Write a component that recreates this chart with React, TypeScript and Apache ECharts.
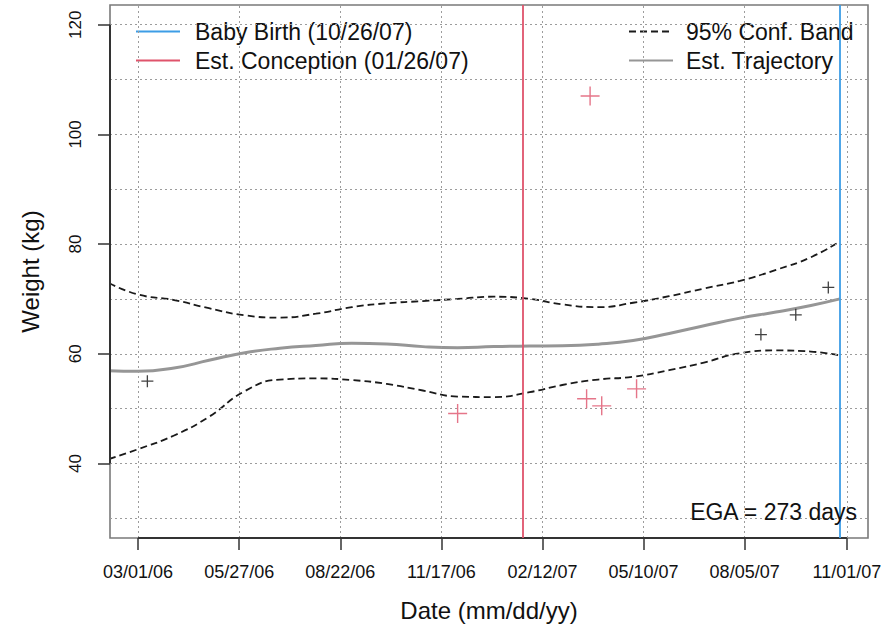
import React, { useEffect, useRef } from 'react';
import * as echarts from 'echarts';

// ---- data ----
const tickLabels = ['03/01/06', '05/27/06', '08/22/06', '11/17/06', '02/12/07', '05/10/07', '08/05/07', '11/01/07'];
const yTickValues = [40, 60, 80, 100, 120];
const yGridValues = [30, 40, 50, 60, 70, 80, 90, 100, 110, 120];
const yLimits = [30, 120];

const birthDate = '10/26/07';
const conceptionDate = '01/26/07';

const curveDates = ['02/04/06', '03/01/06', '04/01/06', '05/01/06', '06/01/06', '07/01/06', '08/01/06', '09/01/06', '10/01/06', '11/01/06', '12/01/06', '01/01/07', '02/01/07', '03/01/07', '04/01/07', '05/01/07', '06/01/07', '07/01/07', '08/01/07', '09/01/07', '10/01/07', '10/26/07'];
const trajectory = [56.9, 56.8, 57.4, 58.8, 60.2, 61.0, 61.5, 61.9, 61.8, 61.3, 61.1, 61.3, 61.4, 61.45, 61.75, 62.4, 63.7, 65.1, 66.5, 67.6, 68.8, 70.0];
const upperBand = [72.9, 70.8, 69.8, 68.3, 67.0, 66.6, 67.3, 68.5, 69.2, 69.6, 70.0, 70.4, 70.0, 69.0, 68.5, 69.3, 70.5, 71.9, 73.3, 75.3, 77.6, 80.5];
const lowerBand = [40.8, 42.6, 45.1, 48.5, 53.2, 55.3, 55.5, 55.2, 54.5, 53.3, 52.2, 52.1, 53.0, 54.3, 55.3, 55.8, 57.0, 58.4, 60.1, 60.6, 60.4, 59.7];

const blackDates = ['03/09/06', '08/19/07', '09/18/07', '10/16/07'];
const blackWeights = [55.0, 63.5, 67.1, 72.1];
const redDates = ['12/01/06', '03/22/07', '03/25/07', '04/04/07', '05/04/07'];
const redWeights = [49.1, 51.8, 107.0, 50.5, 53.6];

// ---- helpers ----
const BASE = Date.UTC(2006, 2, 1);
function toDay(s: string): number {
  const [m, d, y] = s.split('/').map(Number);
  return Math.round((Date.UTC(2000 + y, m - 1, d) - BASE) / 86400000);
}

const FONT = "'Liberation Sans', Arial, Helvetica, sans-serif";
const RED = '#DF536B';
const BLUE = '#3d9de6';
const TEXT = '#111';

const tickDays = tickLabels.map(toDay);
const birthDay = toDay(birthDate);
const conceptionDay = toDay(conceptionDate);
const xStart = tickDays[0];
const xSpan = birthDay - xStart;
const xMin = xStart - 0.04 * xSpan;
const xMax = birthDay + 0.04 * xSpan;
const ySpan = yLimits[1] - yLimits[0];
const yMin = yLimits[0] - 0.04 * ySpan;
const yMax = yLimits[1] + 0.04 * ySpan;

const curveDays = curveDates.map(toDay);
const zip = (xs: number[], ys: number[]) => xs.map((x, i) => [x, ys[i]]);

function labelFor(v: number): string {
  const i = tickDays.findIndex((t) => Math.abs(t - v) < 0.5);
  return i >= 0 ? tickLabels[i] : '';
}

const legendText = { fontSize: 23, lineHeight: 23, color: TEXT, fontFamily: FONT };
const bandStyle = { color: '#1a1a1a', width: 1.8, type: [7, 4] };

const option: any = {
  animation: false,
  backgroundColor: '#fff',
  grid: {
    left: 110, right: 16, top: 5, bottom: 95,
    show: true, borderColor: '#7a7a7a', borderWidth: 1.6,
    containLabel: false, outerBoundsMode: 'none',
  },
  xAxis: {
    type: 'value', min: xMin, max: xMax, position: 'bottom',
    axisLine: { show: false, onZero: false },
    splitLine: { show: false },
    axisTick: { show: true, inside: false, customValues: tickDays, length: 12, lineStyle: { color: '#333', width: 1.5 } },
    axisLabel: { customValues: tickDays, formatter: (v: number) => labelFor(v), fontSize: 18, color: TEXT, margin: 25, fontFamily: FONT },
    name: 'Date (mm/dd/yy)', nameLocation: 'middle', nameGap: 60,
    nameTextStyle: { fontSize: 24, color: TEXT, fontFamily: FONT },
  },
  yAxis: {
    type: 'value', min: yMin, max: yMax, position: 'left',
    axisLine: { show: false, onZero: false },
    splitLine: { show: false },
    axisTick: { show: true, inside: false, customValues: yTickValues, length: 12, lineStyle: { color: '#333', width: 1.5 } },
    axisLabel: { customValues: yTickValues, rotate: 90, fontSize: 17, color: TEXT, margin: 26, fontFamily: FONT },
    name: 'Weight (kg)', nameLocation: 'middle', nameRotate: 90, nameGap: 68,
    nameTextStyle: { fontSize: 24, color: TEXT, fontFamily: FONT },
  },
  legend: [
    {
      data: ['Baby Birth (10/26/07)', 'Est. Conception (01/26/07)'],
      orient: 'vertical', left: 130, top: 15, itemWidth: 44, itemHeight: 14, itemGap: 6,
      selectedMode: false,
      itemStyle: { opacity: 0 },
      textStyle: { ...legendText, padding: [0, 0, 0, 10] },
    },
    {
      data: ['95% Conf. Band', 'Est. Trajectory'],
      orient: 'vertical', left: 623, top: 15, itemWidth: 44, itemHeight: 14, itemGap: 6,
      selectedMode: false,
      itemStyle: { opacity: 0 },
      textStyle: { ...legendText, padding: [0, 0, 0, 8] },
    },
  ],
  graphic: [
    {
      type: 'text', x: 857, y: 512, z: 50,
      style: {
        text: `EGA = ${birthDay - conceptionDay} days`,
        fill: TEXT, fontSize: 23, fontFamily: FONT, align: 'right', verticalAlign: 'middle',
      },
    },
  ],
  series: [
    {
      name: 'grid', type: 'line', data: [], z: 1, silent: true,
      markLine: {
        silent: true, symbol: ['none', 'none'], label: { show: false },
        lineStyle: { color: '#9c9c9c', width: 1, type: [2, 3] },
        data: [
          ...yGridValues.map((v) => ({ yAxis: v })),
          ...tickDays.map((v) => ({ xAxis: v })),
        ],
      },
    },
    {
      name: 'axes', type: 'line', data: [], z: 20, silent: true,
      markLine: {
        silent: true, symbol: ['none', 'none'], label: { show: false },
        lineStyle: { color: '#333', width: 2, type: 'solid' },
        data: [
          [{ coord: [tickDays[0], yMin] }, { coord: [tickDays[tickDays.length - 1], yMin] }],
          [{ coord: [xMin, yTickValues[0]] }, { coord: [xMin, yTickValues[yTickValues.length - 1]] }],
        ],
      },
    },
    {
      name: '95% Conf. Band', type: 'line', data: zip(curveDays, upperBand), smooth: 0.5,
      symbol: 'none', color: '#1a1a1a', z: 3, lineStyle: bandStyle,
    },
    {
      name: '95% Conf. Band', type: 'line', data: zip(curveDays, lowerBand), smooth: 0.5,
      symbol: 'none', color: '#1a1a1a', z: 3, lineStyle: bandStyle,
    },
    {
      name: 'Est. Trajectory', type: 'line', data: zip(curveDays, trajectory), smooth: 0.5,
      symbol: 'none', color: '#969696', z: 4,
      lineStyle: { color: '#969696', width: 3 },
    },
    {
      name: 'Before', type: 'scatter', data: zip(blackDates.map(toDay), blackWeights), z: 6,
      symbol: 'path://M6,0L6,12M0,6L12,6', symbolSize: 12,
      itemStyle: { color: 'rgba(0,0,0,0)', borderColor: '#111', borderWidth: 1.3 },
    },
    {
      name: 'During', type: 'scatter', data: zip(redDates.map(toDay), redWeights), z: 6,
      symbol: 'path://M9.5,0L9.5,19M0,9.5L19,9.5', symbolSize: 19,
      itemStyle: { color: 'rgba(0,0,0,0)', borderColor: RED, borderWidth: 1.4 },
    },
    {
      name: 'Est. Conception (01/26/07)', type: 'line', data: [], color: RED, symbol: 'none', z: 7,
      lineStyle: { color: RED, width: 2 },
      markLine: {
        silent: true, symbol: ['none', 'none'], label: { show: false },
        lineStyle: { color: RED, width: 1.8, type: 'solid' },
        data: [{ xAxis: conceptionDay }],
      },
    },
    {
      name: 'Baby Birth (10/26/07)', type: 'line', data: [], color: BLUE, symbol: 'none', z: 7,
      lineStyle: { color: BLUE, width: 2 },
      markLine: {
        silent: true, symbol: ['none', 'none'], label: { show: false },
        lineStyle: { color: BLUE, width: 1.8, type: 'solid' },
        data: [{ xAxis: birthDay }],
      },
    },
  ],
};

export default function App() {
  const ref = useRef<HTMLDivElement>(null);
  useEffect(() => {
    const chart = echarts.init(ref.current!, null, { renderer: 'svg' });
    chart.setOption(option);
    return () => chart.dispose();
  }, []);
  return (
    <div
      ref={ref}
      style={{ position: 'fixed', left: 0, top: 0, width: 884, height: 633, background: '#fff' }}
    />
  );
}
